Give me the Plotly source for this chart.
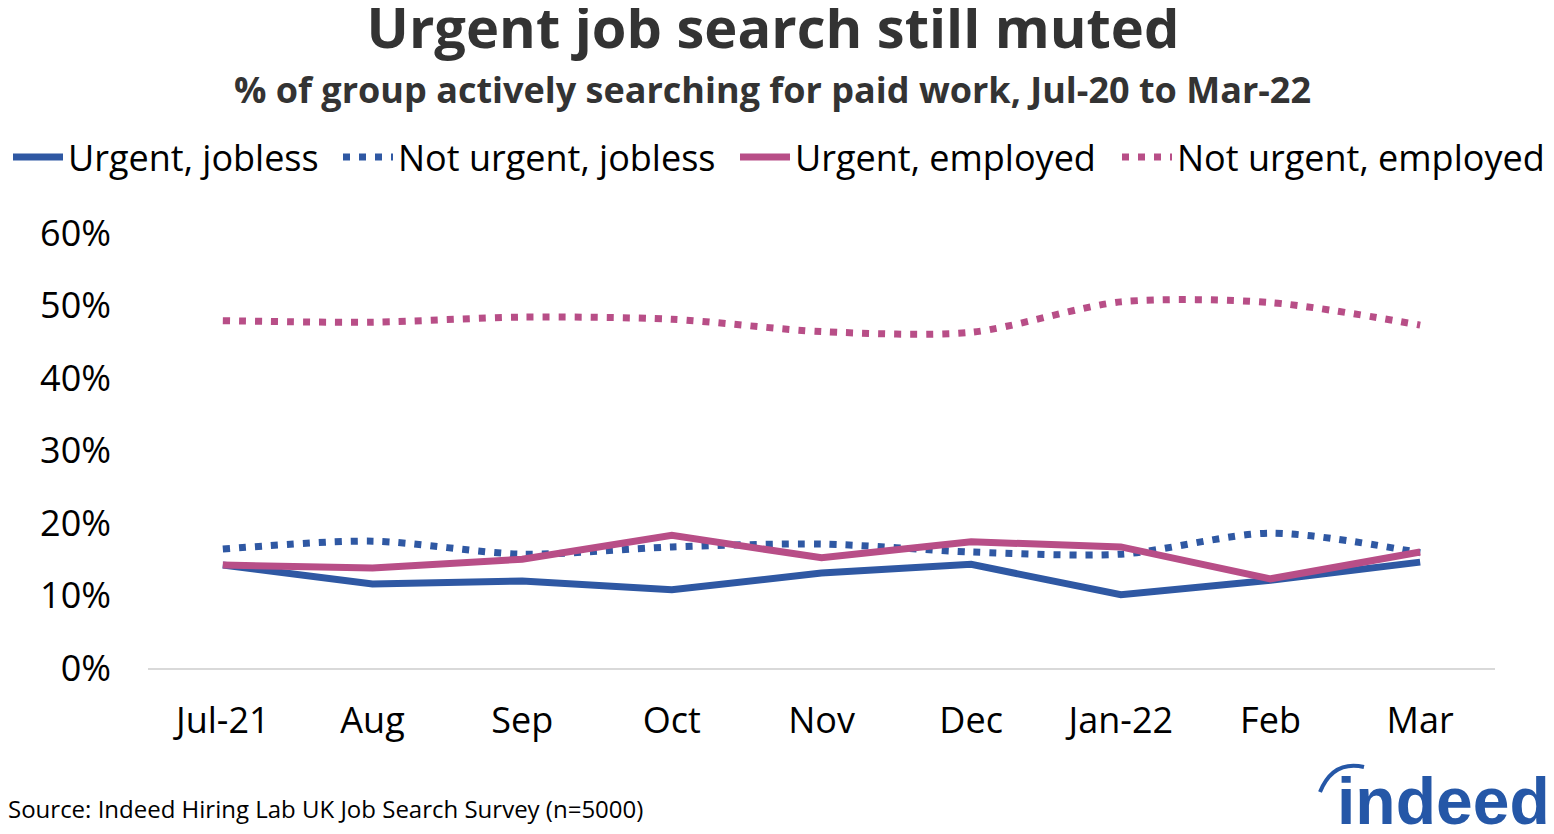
import plotly.graph_objects as go

months = ["Jul-21", "Aug", "Sep", "Oct", "Nov", "Dec", "Jan-22", "Feb", "Mar"]
urgent_jobless = [14.2, 11.6, 12.0, 10.8, 13.1, 14.3, 10.1, 12.1, 14.6]
not_urgent_jobless = [16.4, 17.5, 15.7, 16.7, 17.1, 16.0, 15.7, 18.6, 15.9]
urgent_employed = [14.2, 13.8, 15.0, 18.3, 15.2, 17.4, 16.7, 12.3, 16.0]
not_urgent_employed = [47.9, 47.7, 48.4, 48.1, 46.4, 46.3, 50.5, 50.4, 47.3]

BLUE = "#2F58A3"
PINK = "#B84E87"
FONT = "Open Sans"
DOT = "7px,9px"

# page body has an 8px margin; work in screen coords and shift
OFF = 8
W, H = 1554 - OFF, 834 - OFF
L, R, T, B = 148 - OFF, 1495 - OFF, 233 - OFF, 668 - OFF
PW, PH = R - L, B - T


def px(x):
    return (x - OFF - L) / PW


def py(y):
    return (B - (y - OFF)) / PH


fig = go.Figure()
fig.add_trace(go.Scatter(x=months, y=urgent_jobless, name="Urgent, jobless", mode="lines",
                         line=dict(color=BLUE, width=7), legend="legend"))
fig.add_trace(go.Scatter(x=months, y=not_urgent_jobless, name="Not urgent, jobless", mode="lines",
                         line=dict(color=BLUE, width=7, dash=DOT, shape="spline", smoothing=0.8),
                         legend="legend2"))
fig.add_trace(go.Scatter(x=months, y=urgent_employed, name="Urgent, employed", mode="lines",
                         line=dict(color=PINK, width=7), legend="legend3"))
fig.add_trace(go.Scatter(x=months, y=not_urgent_employed, name="Not urgent, employed", mode="lines",
                         line=dict(color=PINK, width=7, dash=DOT, shape="spline", smoothing=0.8),
                         legend="legend4"))


def leg(x_screen):
    return dict(orientation="h", x=max(0, (x_screen - OFF)) / W, xanchor="left", xref="container",
                y=1 - (157 - OFF) / H, yanchor="middle", yref="container",
                font=dict(size=36, color="#000000", family=FONT),
                itemwidth=50, bgcolor="rgba(0,0,0,0)", borderwidth=0)


fig.update_layout(
    width=W, height=H,
    margin=dict(l=L, r=W - R, t=T, b=H - B, autoexpand=False),
    paper_bgcolor="white", plot_bgcolor="white",
    font=dict(family=FONT, color="#000000"),
    title=dict(text="<b>Urgent job search still muted</b>", x=(773 - OFF) / W, xanchor="center",
               xref="container", y=1 - (28 - OFF) / H, yanchor="middle", yref="container",
               font=dict(size=56, color="#333333", family=FONT)),
    showlegend=True,
    legend=leg(8),
    legend2=leg(338),
    legend3=leg(735),
    legend4=leg(1117),
    xaxis=dict(range=[-0.5, 8.5], showgrid=False, showline=True, linecolor="#D9D9D9", linewidth=1.5,
               ticks="", tickfont=dict(size=36, family=FONT, color="#000000"),
               ticklabelstandoff=20, zeroline=False),
    yaxis=dict(range=[0, 60], dtick=10, ticksuffix="%", showgrid=False, zeroline=False,
               showline=False, ticks="", tickfont=dict(size=36, family=FONT, color="#000000"),
               ticklabelstandoff=36),
)

fig.add_annotation(text="<b>% of group actively searching for paid work, Jul-20 to Mar-22</b>",
                   xref="paper", yref="paper", x=px(772), xanchor="center",
                   y=py(90), yanchor="middle", showarrow=False,
                   font=dict(size=36, color="#333333", family=FONT))
fig.add_annotation(text="Source: Indeed Hiring Lab UK Job Search Survey (n=5000)",
                   xref="paper", yref="paper", x=px(6), xanchor="left",
                   y=py(808), yanchor="middle", showarrow=False,
                   font=dict(size=24, color="#000000", family=FONT))
# Indeed logo
fig.add_annotation(text="<b>indeed</b>", xref="paper", yref="paper",
                   x=px(1552), xanchor="right", y=py(801), yanchor="middle",
                   showarrow=False, font=dict(size=66, color="#2557A7", family="Liberation Sans"))
fig.add_shape(type="path", xref="paper", yref="paper",
              path="M {x0},{y0} Q {x1},{y1} {x2},{y2}".format(
                  x0=px(1320), y0=py(792), x1=px(1333), y1=py(760), x2=px(1364), y2=py(767)),
              line=dict(color="#2557A7", width=4))

fig.write_html("out.html")
